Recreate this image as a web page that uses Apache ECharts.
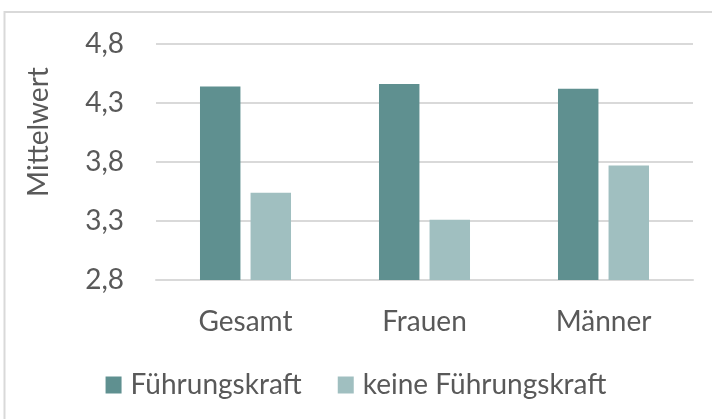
<!DOCTYPE html>
<html>
<head>
<meta charset="utf-8">
<script src="https://cdn.jsdelivr.net/npm/echarts@6/dist/echarts.min.js"></script>
<style>
  html, body { margin: 0; padding: 0; background: #fff; }
  #chart { width: 712px; height: 419px; }
</style>
</head>
<body>
<div id="chart"></div>
<script>
// Daten
const categories = ['Gesamt', 'Frauen', 'Männer'];
const fuehrungskraft = [4.44, 4.46, 4.42];
const keineFuehrungskraft = [3.54, 3.31, 3.77];
const yTicks = [2.8, 3.3, 3.8, 4.3, 4.8];

const textColor = '#595959';
const fontFamily = 'Lato, "Open Sans", sans-serif';
const fontSize = 28;

const chart = echarts.init(document.getElementById('chart'));

const option = {
  backgroundColor: '#fff',
  animation: false,
  textStyle: { fontFamily: fontFamily, color: textColor },
  graphic: [
    {
      type: 'rect',
      shape: { x: 4.5, y: 12, width: 800, height: 500 },
      style: { fill: 'none', stroke: '#d9d9d9', lineWidth: 2 },
      silent: true
    },
    {
      type: 'text',
      x: 39,
      y: 132,
      rotation: Math.PI / 2,
      style: {
        text: 'Mittelwert',
        fill: textColor,
        fontFamily: fontFamily,
        fontSize: fontSize,
        align: 'center',
        verticalAlign: 'middle'
      }
    }
  ],
  grid: { left: 156, right: 19, top: 44, bottom: 139, containLabel: false },
  legend: {
    bottom: 15,
    left: 'center',
    itemWidth: 16,
    itemHeight: 17,
    itemGap: 36,
    icon: 'rect',
    textStyle: { fontSize: fontSize, color: textColor, fontFamily: fontFamily, padding: [0, 0, 0, 4] },
    data: ['Führungskraft', 'keine Führungskraft']
  },
  xAxis: {
    type: 'category',
    data: categories,
    axisLine: { show: true, lineStyle: { color: '#d9d9d9', width: 2 } },
    axisTick: { show: false },
    axisLabel: { fontSize: fontSize, color: textColor, margin: 28, fontFamily: fontFamily }
  },
  yAxis: {
    type: 'value',
    min: yTicks[0],
    max: yTicks[yTicks.length - 1],
    interval: 0.5,
    axisLine: { show: false },
    axisTick: { show: false },
    splitLine: { lineStyle: { color: '#d9d9d9', width: 2 } },
    axisLabel: {
      fontSize: fontSize,
      color: textColor,
      margin: 32,
      fontFamily: fontFamily,
      formatter: v => v.toFixed(1).replace('.', ',')
    }
  },
  series: [
    {
      name: 'Führungskraft',
      type: 'bar',
      data: fuehrungskraft,
      barWidth: '22.6%',
      barGap: '25%',
      itemStyle: { color: '#5f9090' }
    },
    {
      name: 'keine Führungskraft',
      type: 'bar',
      data: keineFuehrungskraft,
      barWidth: '22.6%',
      itemStyle: { color: '#a0bfc0' }
    }
  ]
};

chart.setOption(option);
</script>
</body>
</html>
